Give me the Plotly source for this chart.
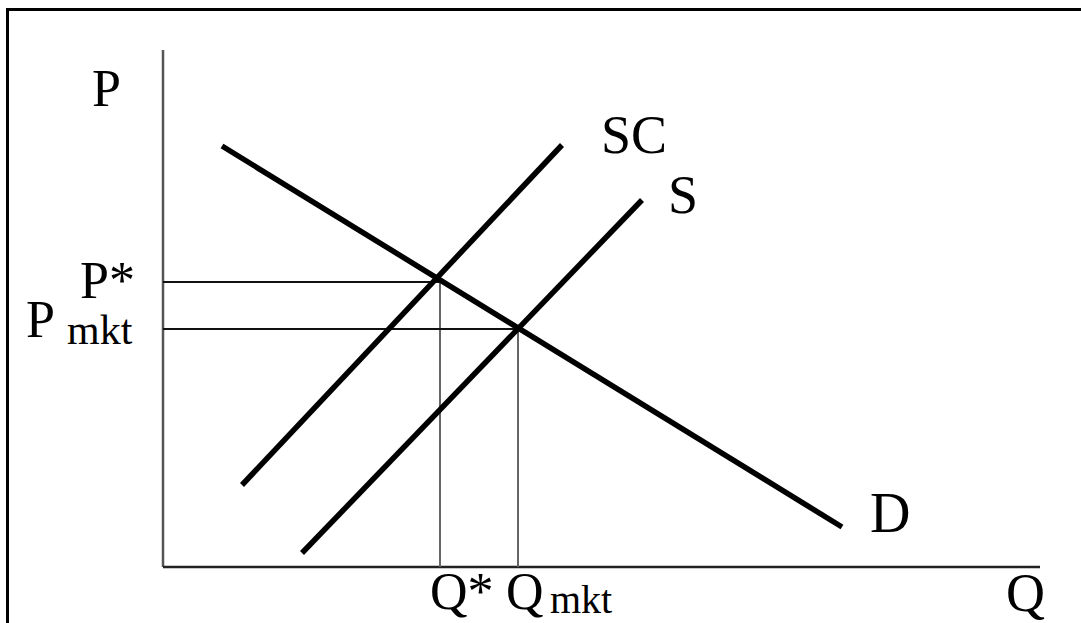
import plotly.graph_objects as go

W, H = 1081, 623

# Diagram data (price P vs quantity Q, arbitrary units)
demand_q = [5.9, 67.9]
demand_p = [42.1, 4.0]
sc_q = [7.9, 39.9]
sc_p = [8.2, 42.2]
s_q = [13.9, 47.9]
s_p = [1.4, 36.7]
q_star, p_star = 27.7, 28.5
q_mkt, p_mkt = 35.5, 23.8
q_max, p_max = 87.7, 51.7

x_range = [-16.3, 91.8]
y_range = [-5.6, 56.7]

FONT = "Liberation Serif, Times New Roman, serif"

fig = go.Figure()

def line(xs, ys, color, width):
    fig.add_trace(go.Scatter(x=xs, y=ys, mode="lines",
                             line=dict(color=color, width=width),
                             hoverinfo="skip", showlegend=False))

# axes
line([0, 0], [0, p_max], "#555555", 2.5)
line([0, q_max], [0, 0], "#222222", 2.5)

# guide lines
line([0, q_star], [p_star, p_star], "#111111", 1.8)
line([q_star, q_star], [0, p_star], "#666666", 2)
line([0, q_mkt], [p_mkt, p_mkt], "#111111", 1.8)
line([q_mkt, q_mkt], [0, p_mkt], "#666666", 2)

# curves
for qs, ps in [(demand_q, demand_p), (sc_q, sc_p), (s_q, s_p)]:
    fig.add_trace(go.Scatter(x=qs, y=ps, mode="lines",
                             line=dict(color="#000000", width=5.5),
                             hoverinfo="skip", showlegend=False))

labels = [
    ("P", -5.7, 47.9, 52),
    ("SC", 47.1, 43.2, 54),
    ("S", 52.0, 37.2, 54),
    ("D", 72.7, 5.4, 56),
    ("Q", 86.2, -2.6, 54),
    ("P*", -5.6, 28.7, 52),
    ("P", -12.3, 24.8, 52),
    ("mkt", -6.3, 23.7, 42),
    ("Q*", 29.9, -2.4, 52),
    ("Q", 36.2, -2.4, 52),
    ("mkt", 41.8, -3.2, 40),
]
for txt, x, y, sz in labels:
    fig.add_annotation(x=x, y=y, xref="x", yref="y", text=txt, showarrow=False,
                       xanchor="center", yanchor="middle",
                       font=dict(family=FONT, size=sz, color="#000000"))

# outer frame (left and top edges visible)
fig.add_shape(type="rect", xref="paper", yref="paper",
              x0=7.5 / W, x1=1.02, y0=-0.02, y1=1 - 9.5 / H,
              line=dict(color="#000000", width=3), layer="above")

fig.update_layout(
    width=W, height=H, autosize=False,
    margin=dict(l=0, r=0, t=0, b=0),
    paper_bgcolor="white", plot_bgcolor="white",
    xaxis=dict(range=x_range, visible=False, fixedrange=True),
    yaxis=dict(range=y_range, visible=False, fixedrange=True),
)

fig.write_html("out.html", config={"displayModeBar": False},
               post_script="document.body.style.margin='0';document.body.style.overflow='hidden';")
